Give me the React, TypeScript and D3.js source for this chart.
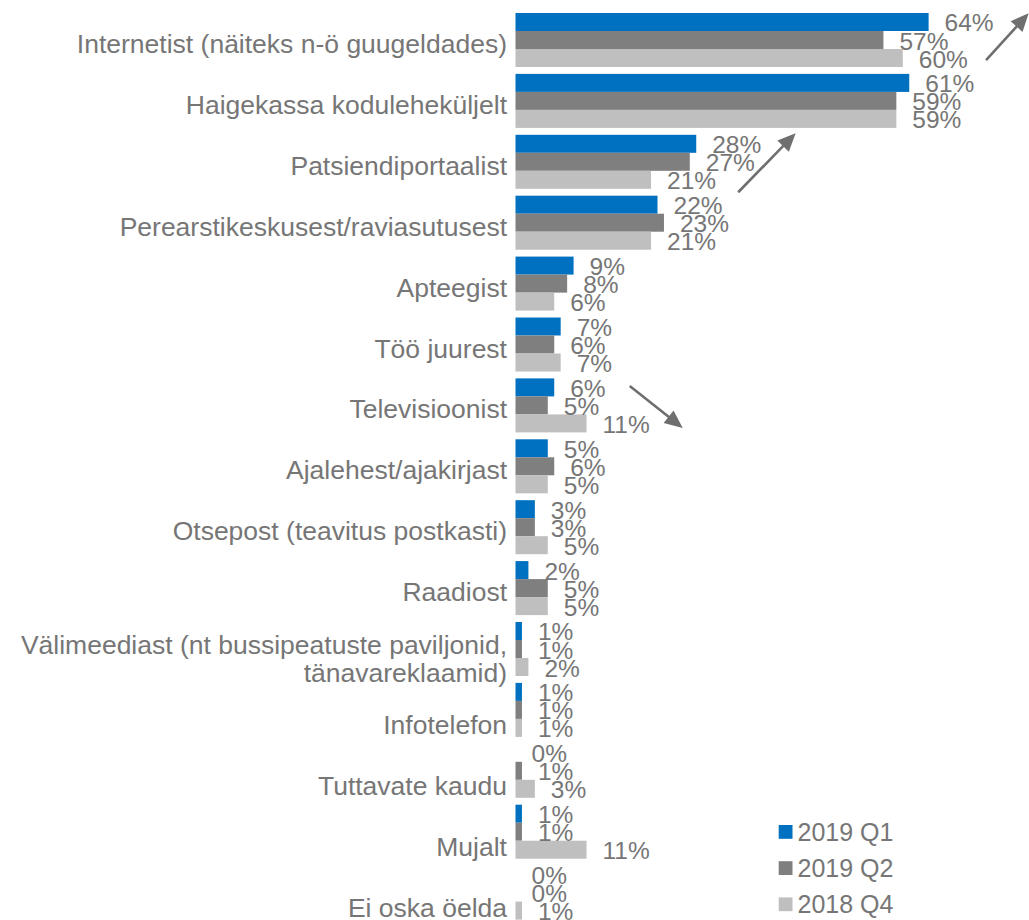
import React from "react";
import * as d3 from "d3";

const categories: string[][] = [
  ["Internetist (näiteks n-ö guugeldades)"],
  ["Haigekassa koduleheküljelt"],
  ["Patsiendiportaalist"],
  ["Perearstikeskusest/raviasutusest"],
  ["Apteegist"],
  ["Töö juurest"],
  ["Televisioonist"],
  ["Ajalehest/ajakirjast"],
  ["Otsepost (teavitus postkasti)"],
  ["Raadiost"],
  ["Välimeediast (nt bussipeatuste paviljonid,", "tänavareklaamid)"],
  ["Infotelefon"],
  ["Tuttavate kaudu"],
  ["Mujalt"],
  ["Ei oska öelda"],
];

const seriesNames = ["2019 Q1", "2019 Q2", "2018 Q4"];
const seriesColors = ["#0070C0", "#7F7F7F", "#BFBFBF"];

const q1_2019 = [64, 61, 28, 22, 9, 7, 6, 5, 3, 2, 1, 1, 0, 1, 0];
const q2_2019 = [57, 59, 27, 23, 8, 6, 5, 6, 3, 5, 1, 1, 1, 1, 0];
const q4_2018 = [60, 59, 21, 21, 6, 7, 11, 5, 5, 5, 2, 1, 3, 11, 1];
const seriesValues = [q1_2019, q2_2019, q4_2018];

// trend arrows: [x0 %, y0 category units, x1 %, y1 category units]
const arrows = [
  [72.9, 0.83, 79.5, 0.06],
  [34.5, 3.0, 43.4, 2.03],
  [17.7, 6.18, 25.9, 6.87],
];

const W = 1029;
const H = 920;
const TEXT = "#767676";
const FONT = "'Liberation Sans', Arial, sans-serif";

export default function App() {
  const keys = categories.map((_, i) => String(i));
  const step = 60.9;
  const top = 9.55;
  const y = d3
    .scaleBand<string>()
    .domain(keys)
    .range([top, top + step * keys.length])
    .paddingInner(0.113)
    .paddingOuter(0.0565);
  const yu = d3.scaleLinear().domain([0, keys.length]).range([top, top + step * keys.length]);
  const ys = d3.scaleBand<number>().domain([0, 1, 2]).range([0, y.bandwidth()]);
  const x = d3.scaleLinear().domain([0, 100]).range([515.5, 515.5 + 645.5]);

  // label shifts from multi-line categories
  let extra = 0;
  const labelShift = categories.map((c) => {
    const own = c.length - 1;
    const s = 11 * extra + 5.5 * own;
    extra += own;
    return s;
  });

  return (
    <svg
      width={W}
      height={H}
      style={{ position: "absolute", left: 0, top: 0, background: "#fff" }}
      fontFamily={FONT}
    >
      <rect x={0} y={0} width={W} height={H} fill="#fff" />
      {categories.map((lines, i) => {
        const c = (y(String(i)) as number) + y.bandwidth() / 2;
        const n = lines.length;
        return (
          <text key={"c" + i} textAnchor="end" fontSize={26.5} fill={TEXT}>
            {lines.map((l, k) => (
              <tspan key={k} x={507} y={c + 13 + labelShift[i] + (k - (n - 1) / 2) * 28}>
                {l}
              </tspan>
            ))}
          </text>
        );
      })}
      {seriesValues.map((vals, s) =>
        vals.map((v, i) => (
          <rect
            key={"b" + s + "-" + i}
            x={x(0)}
            y={(y(String(i)) as number) + (ys(s) as number)}
            width={x(v) - x(0)}
            height={ys.bandwidth()}
            fill={seriesColors[s]}
          />
        ))
      )}
      {seriesValues.map((vals, s) =>
        vals.map((v, i) => (
          <text
            key={"l" + s + "-" + i}
            x={x(v) + 16}
            y={(y(String(i)) as number) + (ys(s) as number) + ys.bandwidth() / 2 + 9.5}
            fontSize={24.5}
            fill={TEXT}
          >
            {v + "%"}
          </text>
        ))
      )}
      {arrows.map((a, i) => {
        const x0 = x(a[0]);
        const y0 = yu(a[1]);
        const x1 = x(a[2]);
        const y1 = yu(a[3]);
        const dx = x1 - x0;
        const dy = y1 - y0;
        const len = Math.sqrt(dx * dx + dy * dy);
        const ux = dx / len;
        const uy = dy / len;
        const hl = 18;
        const hw = 8;
        const bx = x1 - ux * hl;
        const by = y1 - uy * hl;
        const pts = [
          [x1, y1],
          [bx - uy * hw, by + ux * hw],
          [bx + uy * hw, by - ux * hw],
        ]
          .map((p) => p.join(","))
          .join(" ");
        return (
          <g key={"a" + i}>
            <line x1={x0} y1={y0} x2={bx + ux * 2} y2={by + uy * 2} stroke="#6f6f6f" strokeWidth={2.6} />
            <polygon points={pts} fill="#6f6f6f" />
          </g>
        );
      })}
      {seriesNames.map((name, s) => (
        <g key={"lg" + s}>
          <rect x={778.7} y={825 + s * 36.2} width={13.8} height={13.8} fill={seriesColors[s]} />
          <text x={797.5} y={841 + s * 36.2} fontSize={25} fill={TEXT}>
            {name}
          </text>
        </g>
      ))}
    </svg>
  );
}
